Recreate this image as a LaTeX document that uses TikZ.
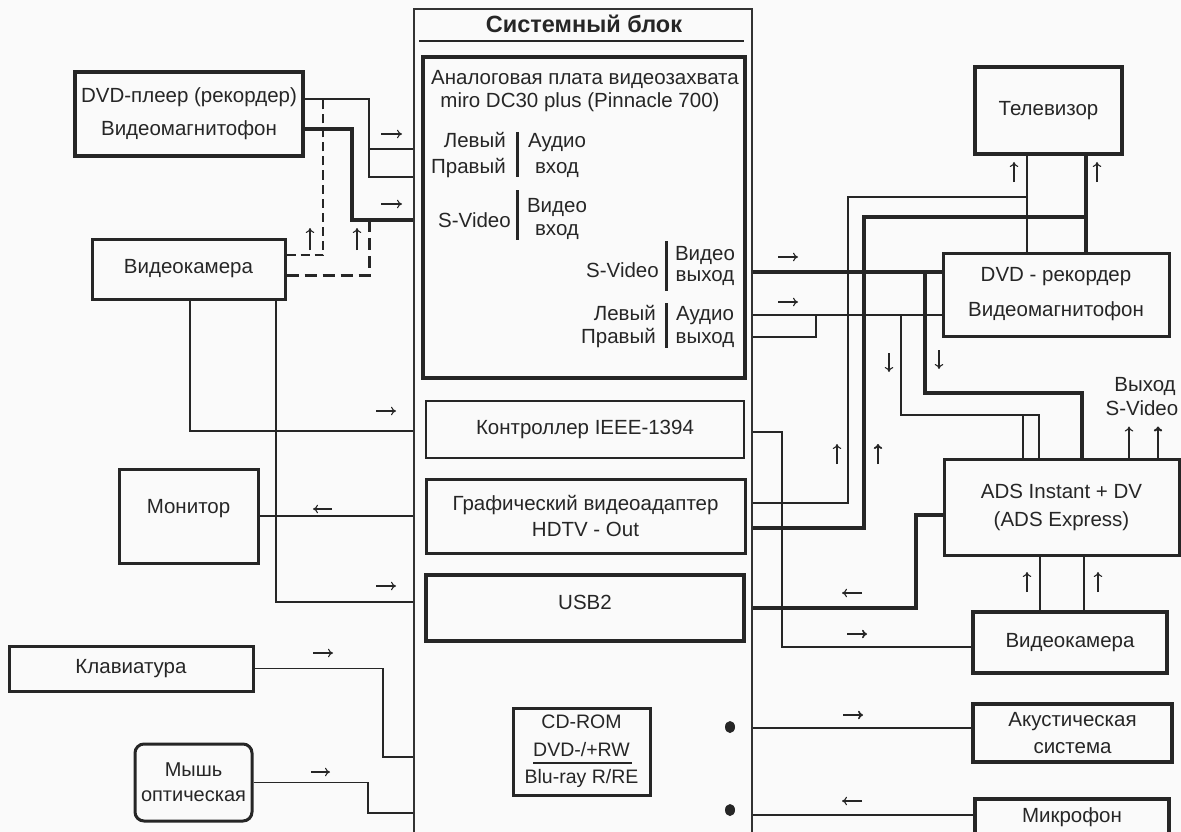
\documentclass[tikz,border=0pt]{standalone}
\usepackage{fontspec}
\setmainfont{Liberation Sans}
\usetikzlibrary{arrows.meta,shapes.geometric}
\begin{document}
\begin{tikzpicture}[x=1pt,y=-1pt,
  thinln/.style={draw=black!85, line width=1.3pt},
  midln/.style={draw=black!85, line width=2pt},
  thickln/.style={draw=black!85, line width=3.4pt},
  box/.style={draw=black!85, line width=3.2pt, inner sep=0pt, align=center, text=black!85, font=\fontsize{20.5}{26}\selectfont},
  txt/.style={inner sep=0pt, text=black!85, font=\fontsize{20.5}{24}\selectfont},
  barln/.style={draw=black!85, line width=3pt},
  arr/.style={draw=black!85, line width=1.1pt, -{To[length=5pt,width=8.5pt]}},
]
\fill[black!2] (0,0) rectangle (1181,832);
\useasboundingbox (0,0) rectangle (1181,832);

% ---------- system block ----------
\node[draw=black!80, line width=1.3pt, minimum width=338, minimum height=841, inner sep=0pt] (sys) at (583,429.5) {};
\node[txt, anchor=base, font=\bfseries\fontsize{23.5}{27}\selectfont] (title) at (584,33) {Системный блок};
\draw[midln] (sys.north west) ++(6,33) -- ++(325,0);

% capture board
\node[box, line width=3.4pt, minimum width=322, minimum height=321] (cap) at (584,217.5) {};
\node[txt, anchor=base] (cap1) at (585,85) {Аналоговая плата видеозахвата};
\node[txt, anchor=base] (cap2) at (580,108) {miro DC30 plus (Pinnacle 700)};
\node[txt, anchor=base east] (l1) at (506,148) {Левый};
\node[txt, anchor=base east] (r1) at (506,174) {Правый};
\node[txt, anchor=base] (a1) at (557,148) {Аудио};
\node[txt, anchor=base] (v1) at (557,174) {вход};
\draw[barln] (517,132) -- (517,177);
\node[txt, anchor=base east] (sv1) at (511,227) {S-Video};
\node[txt, anchor=base] (vi1) at (557,212) {Видео};
\node[txt, anchor=base] (vx1) at (557,235) {вход};
\draw[barln] (517,190) -- (517,240);
\node[txt, anchor=base east] (sv2) at (659,277) {S-Video};
\node[txt, anchor=base] (vi2) at (705,260) {Видео};
\node[txt, anchor=base] (vy2) at (705,281) {выход};
\draw[barln] (666,241) -- (666,291);
\node[txt, anchor=base east] (l2) at (656,320) {Левый};
\node[txt, anchor=base east] (r2) at (656,343) {Правый};
\node[txt, anchor=base] (a2) at (705,320) {Аудио};
\node[txt, anchor=base] (vy3) at (705,343) {выход};
\draw[barln] (666,303) -- (666,348);

\node[box, line width=2.6pt, minimum width=318, minimum height=57] (ieee) at (585,429.5) {Контроллер IEEE-1394};
\node[box, line width=3pt, minimum width=319, minimum height=74, font=\fontsize{20.5}{26}\selectfont] (gpu) at (585.5,516) {Графический видеоадаптер\\HDTV - Out};
\node[box, line width=3.4pt, minimum width=318, minimum height=66, label={[txt,yshift=6pt]center:USB2}] (usb) at (585,608) {};
\node[box, line width=3pt, minimum width=137, minimum height=87, font=\fontsize{19.5}{27.5}\selectfont] (cd) at (581.5,751.5) {CD-ROM\\DVD-/+RW\\Blu-ray R/RE};
\draw[thinln] (533,763) -- (632,763);
\node[ellipse, fill=black!85, inner sep=0pt, minimum width=10, minimum height=12] (dot1) at (730,727) {};
\node[ellipse, fill=black!85, inner sep=0pt, minimum width=10, minimum height=12] (dot2) at (730,810) {};

% ---------- left devices ----------
\node[box, line width=3.4pt, minimum width=228, minimum height=84, font=\fontsize{20.5}{33}\selectfont] (dvdp) at (189,114) {DVD-плеер (рекордер)\\Видеомагнитофон};
\node[box, line width=3pt, minimum width=193, minimum height=60] (camL) at (188.5,269) {Видеокамера};
\node[box, line width=3pt, minimum width=139, minimum height=94, label={[txt,yshift=7pt]center:Монитор}] (mon) at (188.5,516) {};
\node[box, line width=3pt, minimum width=244, minimum height=45] (kbd) at (131,668.5) {Клавиатура};
\node[box, line width=3pt, rounded corners=9pt, minimum width=117, minimum height=77, font=\fontsize{20}{25}\selectfont] (mouse) at (193.5,782.5) {Мышь\\оптическая};

% ---------- right devices ----------
\node[box, line width=3.4pt, minimum width=147, minimum height=87] (tv) at (1048.5,110.5) {Телевизор};
\node[box, line width=3pt, minimum width=226, minimum height=83, font=\fontsize{20.5}{35}\selectfont] (dvdr) at (1056,294.5) {DVD - рекордер\\Видеомагнитофон};
\node[box, line width=3pt, minimum width=235, minimum height=96, font=\fontsize{20.5}{28}\selectfont] (ads) at (1061.5,507) {ADS Instant + DV\\(ADS Express)};
\node[box, line width=3.4pt, minimum width=194, minimum height=61] (camR) at (1070,642.5) {Видеокамера};
\node[box, line width=3.8pt, minimum width=199, minimum height=58, font=\fontsize{20.5}{27}\selectfont] (ac) at (1072.5,733) {Акустическая\\система};
\node[box, line width=3.8pt, minimum width=194, minimum height=36] (mic) at (1072,817) {Микрофон};
\node[txt, anchor=base] (vyh1) at (1145,391) {Выход};
\node[txt, anchor=base] (vyh2) at (1142,415) {S-Video};

% ---------- left connectors ----------
\draw[thinln] (dvdp.east |- 0,99) -| (369,177) -- (sys.west |- 0,177);
\draw[thinln] (369,149) -- (sys.west |- 0,149);
\draw[thickln] (dvdp.east |- 0,129) -| (352,220) -- (sys.west |- 0,220);
\draw[thinln, dash pattern=on 9pt off 5pt] (camL.east |- 0,255) -| (323,99);
\draw[thickln, line width=3pt, dash pattern=on 12pt off 6pt] (camL.east |- 0,275) -| (369,220);
\draw[midln] (camL.south -| 190,0) |- (sys.west |- 0,431);
\draw[midln] (camL.south -| 276,0) |- (sys.west |- 0,602);
\draw[midln] (mon.east) -- (sys.west |- mon.east);
\draw[thinln] (kbd.east) -| (383,757) -- (sys.west |- 0,757);
\draw[thinln] (mouse.east) -| (368,813) -- (sys.west |- 0,813);

% ---------- right connectors ----------
\draw[thickln] (sys.east |- 0,272) -- (dvdr.west |- 0,272);
\draw[thickln] (925,272) |- (1082,393) -- (ads.north -| 1082,0);
\draw[thinln] (sys.east |- 0,315) -- (dvdr.west |- 0,315);
\draw[thinln] (901,315) |- (1039,415) -- (ads.north -| 1039,0);
\draw[thinln] (1023,415) -- (ads.north -| 1023,0);
\draw[thinln] (sys.east |- 0,337) -| (816,315);
\draw[thinln] (sys.east |- 0,503) -| (848,197) -- (1027,197);
\draw[thinln] (tv.south -| 1027,0) -- (dvdr.north -| 1027,0);
\draw[thickln] (sys.east |- 0,528) -| (864,217) -- (1086,217);
\draw[thickln] (tv.south -| 1086,0) -- (dvdr.north -| 1086,0);
\draw[thinln] (sys.east |- 0,432) -| (782,647) -- (camR.west |- 0,647);
\draw[thickln] (sys.east |- 0,608) -| (916,515) -- (ads.west |- 0,515);
\draw[thinln] (ads.south -| 1040,0) -- (camR.north -| 1040,0);
\draw[midln] (ads.south -| 1084,0) -- (camR.north -| 1084,0);
\draw[midln] (sys.east |- 0,728) -- (ac.west |- 0,728);
\draw[thinln] (sys.east |- 0,815) -- (mic.west |- 0,815);

% ---------- direction arrows ----------
\draw[arr] (381,134) -- (402,134);
\draw[arr] (381,204) -- (402,204);
\draw[arr] (310,250) -- (310,228);
\draw[arr] (357,250) -- (357,228);
\draw[arr] (376,411) -- (396,411);
\draw[arr] (332,509) -- (313,509);
\draw[arr] (376,586) -- (396,586);
\draw[arr] (313,653) -- (333,653);
\draw[arr] (311,772) -- (330,772);
\draw[arr] (778,257) -- (798,257);
\draw[arr] (778,302) -- (798,302);
\draw[arr] (1014,182) -- (1014,162);
\draw[arr] (1097,182) -- (1097,162);
\draw[arr] (889,353) -- (889,372);
\draw[arr] (939,350) -- (939,369);
\draw[arr] (837,464) -- (837,444);
\draw[arr, line width=1.8pt] (878,464) -- (878,444);
\draw[arr] (ads.north -| 1129,0) -- ++(0,-31);
\draw[arr, line width=2pt] (ads.north -| 1158,0) -- ++(0,-31);
\draw[arr] (862,593) -- (842,593);
\draw[arr, line width=1.6pt] (847,634) -- (867,634);
\draw[arr] (1027,592) -- (1027,572);
\draw[arr] (1098,592) -- (1098,572);
\draw[arr, line width=1.6pt] (843,715) -- (863,715);
\draw[arr] (862,801) -- (842,801);
\end{tikzpicture}
\end{document}
